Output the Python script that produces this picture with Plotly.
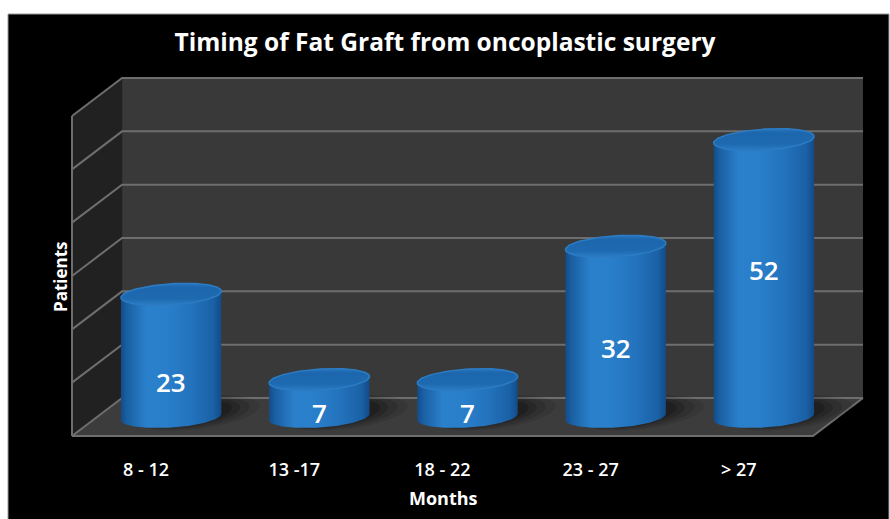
import numpy as np
import plotly.graph_objects as go

# ---------------- data ----------------
categories = ["8 - 12", "13 -17", "18 - 22", "23 - 27", "> 27"]
patients = [23, 7, 7, 32, 52]
y_ticks = [0, 10, 20, 30, 40, 50, 60]

title_text = "Timing of Fat Graft from oncoplastic surgery"
x_title = "Months"
y_title = "Patients"

# ---------------- layout / geometry ----------------
W, H = 890, 519
PX_X = 148.0            # pixels per category
PX_Y = 320.0 / 60.0     # pixels per patient
DX = 50.0 / PX_X        # depth offset (x units)
DY = 38.0 / PX_Y        # depth offset (y units)
YMAX = 60
PADX = 2.0 / PX_X
PADY = 2.0 / PX_Y
L, R, T, B = 70, 25, 76, 81

RX = 48.0 / PX_X        # cylinder half width
RD = 0.29               # cylinder depth radius (fraction of wall depth)
# height of value labels (fraction of bar height above base)
label_frac = [0.285, 0.11, 0.11, 0.405, 0.53]

WALL_BACK = "#393939"
WALL_LEFT = "#212121"
FLOOR = "#3c3c3c"
GRID = "#6e6e6e"

fig = go.Figure()


def poly(xs, ys, fill, line_color=None, width=0, gradient=None):
    kw = dict(x=list(xs) + [xs[0]], y=list(ys) + [ys[0]], mode="lines",
              fill="toself", hoverinfo="skip", showlegend=False,
              line=dict(color=line_color or "rgba(0,0,0,0)", width=width))
    if gradient is not None:
        kw["fillgradient"] = gradient
    else:
        kw["fillcolor"] = fill
    fig.add_trace(go.Scatter(**kw))


x0, x1 = -0.5, len(categories) - 0.5

# back wall
poly([x0 + DX, x1 + DX, x1 + DX, x0 + DX], [DY, DY, YMAX + DY, YMAX + DY], WALL_BACK)
# left wall
poly([x0, x0 + DX, x0 + DX, x0], [0, DY, YMAX + DY, YMAX], WALL_LEFT)
# floor
poly([x0, x1, x1 + DX, x0 + DX], [0, 0, DY, DY], FLOOR)

# gridlines
for v in y_ticks:
    fig.add_trace(go.Scatter(x=[x0, x0 + DX, x1 + DX], y=[v, v + DY, v + DY],
                             mode="lines", line=dict(color=GRID, width=2),
                             hoverinfo="skip", showlegend=False))
# wall / floor edges
fig.add_trace(go.Scatter(x=[x0, x0], y=[0, YMAX], mode="lines",
                         line=dict(color=GRID, width=2), hoverinfo="skip", showlegend=False))
fig.add_trace(go.Scatter(x=[x0, x1, x1 + DX], y=[0, 0, DY], mode="lines",
                         line=dict(color=GRID, width=2), hoverinfo="skip", showlegend=False))


def ring(cx, cy, t, rx=RX, rd=RD):
    return (cx + rx * np.cos(t) + rd * DX * np.sin(t), cy + rd * DY * np.sin(t))


t1 = np.arctan(RD * DX / RX)
base = 0.5 * DY
tt = np.linspace(0, 2 * np.pi, 120)

# soft shadows behind / right of each bar base
for i, v in enumerate(patients):
    cx = i + 0.5 * DX
    for sc, off, a in [(1.25, 0.16, 0.09), (1.15, 0.13, 0.13), (1.05, 0.10, 0.17), (0.95, 0.08, 0.2)]:
        xs, ys = ring(cx + off, base + 0.8, tt, rx=RX * sc, rd=RD * sc * 1.3)
        poly(xs, ys, f"rgba(0,0,0,{a})")

body_grad = dict(type="horizontal", colorscale=[
    [0.0, "#134c88"], [0.06, "#1a5fa3"], [0.25, "#2a80cb"], [0.45, "#2a7fca"],
    [0.7, "#2373bd"], [0.92, "#1a61a6"], [1.0, "#134b86"]])
top_grad = dict(type="vertical", colorscale=[
    [0.0, "#2b7cc4"], [0.3, "#1e6ab1"], [0.8, "#1c66ad"], [1.0, "#2676bf"]])

for i, v in enumerate(patients):
    cx = i + 0.5 * DX
    top = base + v
    tb = np.linspace(t1 + np.pi, t1 + 2 * np.pi, 80)
    ttop = np.linspace(t1, t1 + np.pi, 80)
    bx, by = ring(cx, base, tb)
    ux, uy = ring(cx, top, ttop)
    poly(np.concatenate([bx, ux]), np.concatenate([by, uy]), None, gradient=body_grad)
    ex, ey = ring(cx, top, tt)
    poly(ex, ey, None, line_color="#2c7cc4", width=1.5, gradient=top_grad)

annotations = []
for i, v in enumerate(patients):
    cx = i + 0.5 * DX
    annotations.append(dict(x=cx, y=base + v * label_frac[i], xref="x", yref="y",
                            text=str(v), showarrow=False, xanchor="center", yanchor="middle",
                            font=dict(family="Open Sans", size=26, color="white", weight=600)))

pw, ph = W - L - R, H - T - B


def px_to_paper(px, py):
    return (px - L) / pw, (H - py - B) / ph


ax_, ay_ = px_to_paper(60, 277)
annotations.append(dict(x=ax_, y=ay_, xref="paper", yref="paper", text=y_title,
                        showarrow=False, textangle=-90, xanchor="center", yanchor="middle",
                        font=dict(family="Open Sans", size=17, color="white", weight="bold")))
ax_, ay_ = px_to_paper(443, 498)
annotations.append(dict(x=ax_, y=ay_, xref="paper", yref="paper", text=x_title,
                        showarrow=False, xanchor="center", yanchor="middle",
                        font=dict(family="Open Sans", size=18, color="white", weight="bold")))

# black frame
fx0, fy1 = px_to_paper(8, 14)
fx1, fy0 = px_to_paper(889, H + 5)
frame = dict(type="rect", xref="paper", yref="paper", layer="below",
             x0=fx0, x1=fx1, y0=fy0, y1=fy1,
             fillcolor="black", line=dict(color="#9a9a9a", width=1))

fig.update_layout(
    width=W, height=H,
    margin=dict(l=L, r=R, t=T, b=B),
    paper_bgcolor="white", plot_bgcolor="rgba(0,0,0,0)",
    title=dict(text=title_text, x=0.5, xanchor="center", xref="container",
               y=1 - 42 / H, yanchor="middle", yref="container",
               font=dict(family="Open Sans", size=24.5, color="white", weight="bold")),
    xaxis=dict(range=[x0 - PADX, x1 + DX + PADX], tickvals=list(range(len(categories))),
               ticktext=categories, showgrid=False, zeroline=False, showline=False,
               ticks="", ticklabelstandoff=19,
               tickfont=dict(family="Open Sans", size=18, color="white", weight=600)),
    yaxis=dict(range=[-PADY, YMAX + DY + PADY], visible=False),
    shapes=[frame],
    annotations=annotations,
)

fig.write_html("out.html", config={"displayModeBar": False},
               post_script="document.body.style.margin='0';document.body.style.overflow='hidden';")
